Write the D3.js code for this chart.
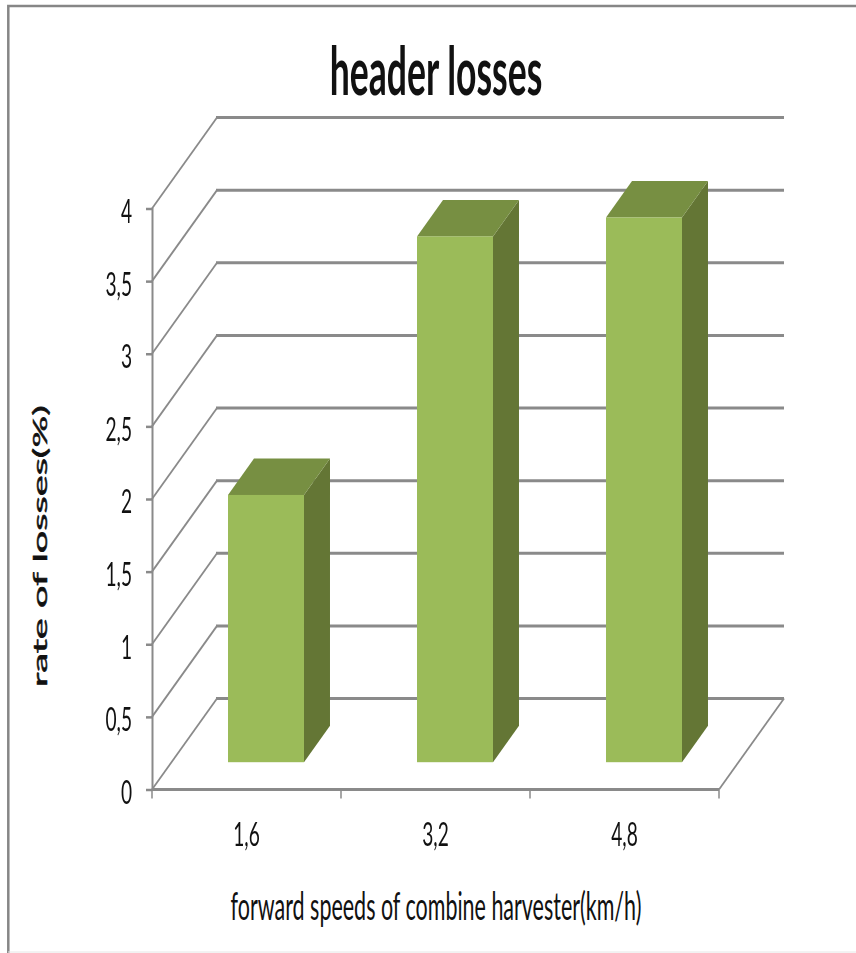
<!DOCTYPE html>
<html>
<head>
<meta charset="utf-8">
<script src="https://cdn.jsdelivr.net/npm/d3@7"></script>
<style>
  html, body { margin: 0; padding: 0; background: #fff; }
  svg { display: block; }
  text { font-family: Lato, "Open Sans", sans-serif; fill: #111; }
</style>
</head>
<body>
<div class="chart"></div>
<script>
var speeds = ["1,6", "3,2", "4,8"];
var losses = [1.84, 3.62, 3.75];
var yTicks = [0, 0.5, 1, 1.5, 2, 2.5, 3, 3.5, 4];

var width = 856, height = 953;
var margin = {top: 208.5, right: 137, bottom: 163.5, left: 152};

// how far the floor and back wall are pushed by the fake 3d
var depthX = 65, depthY = 91;
var barFront = 0.3, barBack = 0.7;

var gridColor = "#8a8a8a",
    frontColor = "#9bbb59",
    topColor = "#778f42",
    sideColor = "#647635";

var svg = d3.select(".chart")
  .append("svg")
    .attr("width", width)
    .attr("height", height);

var x = d3.scaleBand()
  .domain(speeds)
  .range([margin.left, width - margin.right])
  .paddingInner(0.598)
  .paddingOuter(0.299);

var y = d3.scaleLinear()
  .domain([0, 4])
  .range([height - margin.bottom, margin.top]);

var x0 = margin.left, x1 = width - margin.right;

// outer frame of the picture
svg.append("path")
  .attr("d", "M8.3,953V6H856")
  .attr("fill", "none")
  .attr("stroke", "#868686")
  .attr("stroke-width", 2.5);
svg.append("line")
  .attr("x1", 8).attr("x2", 856)
  .attr("y1", 952).attr("y2", 952)
  .attr("stroke", "#e6e6e6");

var plot = svg.append("g").style("filter", "blur(0.4px)");

// grid: diagonal on the side wall then straight along the back wall
plot.selectAll(".grid-side")
  .data(yTicks)
  .enter().append("line")
    .attr("class", "grid-side")
    .attr("stroke", gridColor)
    .attr("stroke-width", 1.8)
    .attr("x1", x0)
    .attr("y1", function(d) { return y(d); })
    .attr("x2", x0 + depthX)
    .attr("y2", function(d) { return y(d) - depthY; });

plot.selectAll(".grid-back")
  .data(yTicks)
  .enter().append("line")
    .attr("class", "grid-back")
    .attr("stroke", gridColor)
    .attr("stroke-width", 3)
    .attr("x1", x0 + depthX - 1)
    .attr("x2", x1 + depthX)
    .attr("y1", function(d) { return y(d) - depthY; })
    .attr("y2", function(d) { return y(d) - depthY; });

// right edge of the floor
plot.append("line")
  .attr("x1", x1).attr("y1", y(0))
  .attr("x2", x1 + depthX).attr("y2", y(0) - depthY)
  .attr("stroke", gridColor)
  .attr("stroke-width", 1.8);

// y axis
var yAxis = d3.axisLeft(y)
  .tickValues(yTicks)
  .tickSize(6)
  .tickPadding(14)
  .tickFormat(function(d) { return String(d).replace(".", ","); });

var yG = plot.append("g")
  .attr("transform", "translate(" + x0 + ",0)")
  .call(yAxis);
yG.select(".domain").attr("stroke", gridColor).attr("stroke-width", 2);
yG.selectAll(".tick line").attr("stroke", gridColor).attr("stroke-width", 2.5);
yG.selectAll(".tick text").attr("dy", "0.42em");

// x axis, ticks sit on the band edges
var xEdges = [x0, x0 + (x1 - x0) / 3, x0 + 2 * (x1 - x0) / 3, x1];
plot.append("line")
  .attr("x1", x0).attr("x2", x1)
  .attr("y1", y(0)).attr("y2", y(0))
  .attr("stroke", gridColor)
  .attr("stroke-width", 3);
plot.selectAll(".xtick")
  .data(xEdges)
  .enter().append("line")
    .attr("class", "xtick")
    .attr("x1", function(d) { return d; })
    .attr("x2", function(d) { return d; })
    .attr("y1", y(0))
    .attr("y2", y(0) + 9)
    .attr("stroke", gridColor)
    .attr("stroke-width", 1.5);

var xAxis = d3.axisBottom(x).tickSize(0).tickPadding(33);
var xG = plot.append("g")
  .attr("transform", "translate(0," + y(0) + ")")
  .call(xAxis);
xG.select(".domain").remove();

plot.selectAll(".tick text")
  .style("font-family", "Lato")
  .style("font-size", "33px")
  .attr("fill", "#111")
  .each(function() {
    this.setAttribute("textLength", this.getComputedTextLength() * 0.58);
    this.setAttribute("lengthAdjust", "spacingAndGlyphs");
  });

// bars
function pt(px, py) { return px + "," + py; }

var bars = plot.selectAll(".bar")
  .data(losses)
  .enter().append("g")
    .attr("class", "bar");

function barLeft(i) { return x(speeds[i]) + barFront * depthX; }
function barTop(d) { return y(d) - barFront * depthY; }
var barBottom = y(0) - barFront * depthY;
var offX = (barBack - barFront) * depthX,
    offY = (barBack - barFront) * depthY;

bars.append("polygon")
  .attr("fill", sideColor)
  .attr("points", function(d, i) {
    var r = barLeft(i) + x.bandwidth();
    return [pt(r, barTop(d)), pt(r + offX, barTop(d) - offY),
            pt(r + offX, barBottom - offY), pt(r, barBottom)].join(" ");
  });

bars.append("polygon")
  .attr("fill", topColor)
  .attr("points", function(d, i) {
    var l = barLeft(i), r = l + x.bandwidth();
    return [pt(l, barTop(d)), pt(l + offX, barTop(d) - offY),
            pt(r + offX, barTop(d) - offY), pt(r, barTop(d))].join(" ");
  });

bars.append("rect")
  .attr("fill", frontColor)
  .attr("x", function(d, i) { return barLeft(i); })
  .attr("y", barTop)
  .attr("width", x.bandwidth())
  .attr("height", function(d) { return barBottom - barTop(d); });

// stretched titles: squeeze or widen the text to the width it has in the picture
function fitted(content, size, target, transform) {
  var t = svg.append("text")
    .style("text-anchor", "middle")
    .style("font-size", size + "px")
    .text(content);
  var sx = target / t.node().getComputedTextLength();
  t.attr("transform", transform + " scale(" + sx + ",1)");
  return t;
}

fitted("header losses", 66, 210, "translate(436,95)")
  .style("font-weight", "bold");

fitted("forward speeds of combine harvester(km/h)", 39, 411, "translate(436,920)");

fitted("rate of losses(%)", 20, 282, "translate(47,546) rotate(-90)")
  .style("stroke", "#111")
  .style("stroke-width", 0.5);
</script>
</body>
</html>
